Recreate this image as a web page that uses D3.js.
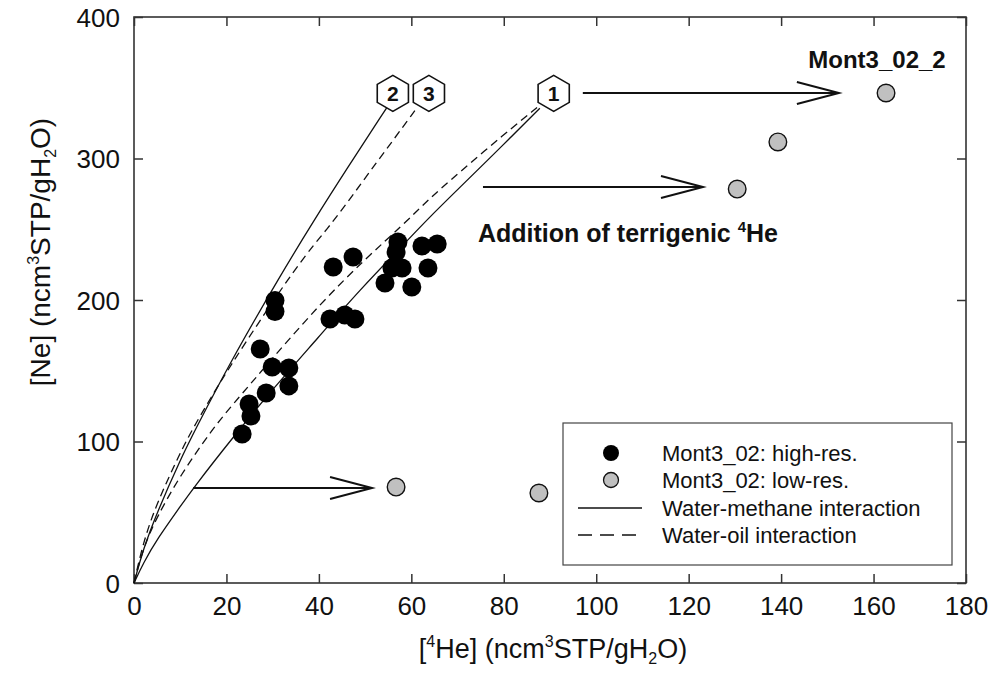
<!DOCTYPE html>
<html>
<head>
<meta charset="utf-8">
<script src="https://cdn.jsdelivr.net/npm/d3@7"></script>
<style>
  html, body { margin: 0; padding: 0; background: #fff; }
  svg { display: block; font-family: "Liberation Sans", Arial, sans-serif; }
</style>
</head>
<body>
<svg id="chart" width="995" height="690"></svg>
<script>
// ---- data ----
const xTicks = [0, 20, 40, 60, 80, 100, 120, 140, 160, 180];
const yTicks = [0, 100, 200, 300, 400];

// Mont3_02 high-resolution samples: [4He], [Ne]
const hiResHe = [23.4, 24.9, 25.3, 27.3, 28.6, 29.9, 30.5, 30.5, 33.5, 33.5, 42.4, 43.1,
                 45.6, 47.4, 47.8, 54.3, 55.8, 56.7, 57.1, 58.0, 60.1, 62.3, 65.6, 63.6];
const hiResNe = [105.3, 126.5, 118.0, 165.4, 134.3, 152.7, 199.6, 191.9, 152.0, 139.3, 186.6, 223.3,
                 189.4, 230.4, 186.6, 212.0, 222.6, 233.9, 241.0, 222.6, 209.2, 238.2, 239.6, 222.6];

// Mont3_02 low-resolution samples
const loResHe = [56.7, 87.6, 130.5, 139.3, 162.7];
const loResNe = [67.8, 63.6, 278.4, 311.7, 346.3];

// Model curves (water-methane = solid, water-oil = dashed)
const methane1He = [0, 2, 5, 10, 12.8, 21.4, 30, 40, 48.5, 60, 64, 70, 80, 87.8];
const methane1Ne = [0, 14, 31, 54, 67, 103, 137, 174, 206, 245, 258.7, 278, 310, 335.5];
const methane2He = [0, 2, 5, 10, 13.2, 20.8, 31.6, 38.7, 46.1, 54.7];
const methane2Ne = [0, 24, 50, 87, 108, 156, 217, 255, 293, 336];
const oil1He = [0, 2, 5, 10, 16.8, 20.8, 30, 40.2, 50, 58.2, 64, 70, 80, 87.2];
const oil1Ne = [0, 25, 47, 76, 108, 124, 159, 197, 229, 253, 272, 289, 317, 336];
const oil3He = [0, 2, 5, 10, 12.5, 20, 35.9, 42.4, 49.5, 55.4, 60.8];
const oil3Ne = [0, 29, 57, 92, 108, 150, 228, 252, 284, 310, 334];

// Scenario markers
const markerLabels = ["2", "3", "1"];
const markerHe = [56.0, 63.8, 90.8];
const markerNe = [346, 346, 346];

// Arrows showing addition of terrigenic 4He: from, to, level
const arrowFrom = [97.1, 75.5, 12.8];
const arrowTo = [152.5, 123.1, 51.5];
const arrowNe = [346.3, 279.9, 67.1];

// ---- layout ----
const svg = d3.select("#chart");
const plotL = 134, plotR = 966, plotT = 17, plotB = 583;
const x = d3.scaleLinear().domain([0, 180]).range([plotL, plotR]);
const y = d3.scaleLinear().domain([0, 400]).range([plotB, plotT]);
const axisColor = "#333";

// frame
svg.append("rect")
  .attr("x", plotL).attr("y", plotT)
  .attr("width", plotR - plotL).attr("height", plotB - plotT)
  .attr("fill", "none").attr("stroke", axisColor).attr("stroke-width", 1.6);

// axes with inward ticks
const tickLen = 9;
const gx = svg.append("g").attr("transform", `translate(0,${plotB})`)
  .call(d3.axisBottom(x).tickValues(xTicks).tickSizeInner(-tickLen).tickSizeOuter(0).tickPadding(14));
const gy = svg.append("g").attr("transform", `translate(${plotL},0)`)
  .call(d3.axisLeft(y).tickValues(yTicks).tickSizeInner(-tickLen).tickSizeOuter(0).tickPadding(14));
const gxt = svg.append("g").attr("transform", `translate(0,${plotT})`)
  .call(d3.axisTop(x).tickValues(xTicks).tickSizeInner(-tickLen).tickSizeOuter(0).tickFormat(""));
const gyr = svg.append("g").attr("transform", `translate(${plotR},0)`)
  .call(d3.axisRight(y).tickValues(yTicks).tickSizeInner(-tickLen).tickSizeOuter(0).tickFormat(""));
[gx, gy, gxt, gyr].forEach(g => {
  g.select(".domain").remove();
  g.selectAll(".tick line").attr("stroke", axisColor).attr("stroke-width", 1.5);
  g.selectAll(".tick text").attr("fill", "#111").style("font-size", "26px")
    .style("font-family", "'Liberation Sans', Arial, sans-serif");
});
gy.selectAll(".tick text").attr("dy", "0.36em");

// axis titles
const supSize = "16px";
const xt = svg.append("text")
  .attr("x", 553).attr("y", 658)
  .attr("text-anchor", "middle").style("font-size", "27px").attr("fill", "#111");
xt.append("tspan").text("[");
xt.append("tspan").text("4").style("font-size", supSize).attr("dy", -11);
xt.append("tspan").text("He] (ncm").attr("dy", 11);
xt.append("tspan").text("3").style("font-size", supSize).attr("dy", -11);
xt.append("tspan").text("STP/gH").attr("dy", 11);
xt.append("tspan").text("2").style("font-size", supSize).attr("dy", 6);
xt.append("tspan").text("O)").attr("dy", -6);

const yt = svg.append("text")
  .attr("transform", "translate(50,252) rotate(-90)")
  .attr("text-anchor", "middle").style("font-size", "28px").attr("fill", "#111");
yt.append("tspan").text("[Ne] (ncm");
yt.append("tspan").text("3").style("font-size", supSize).attr("dy", -11);
yt.append("tspan").text("STP/gH").attr("dy", 11);
yt.append("tspan").text("2").style("font-size", supSize).attr("dy", 6);
yt.append("tspan").text("O)").attr("dy", -6);

// ---- model curves ----
const line = d3.line().x(d => x(d[0])).y(d => y(d[1])).curve(d3.curveBasis);
const curves = [
  { he: methane1He, ne: methane1Ne, dash: null },
  { he: methane2He, ne: methane2Ne, dash: null },
  { he: oil1He, ne: oil1Ne, dash: "8,5" },
  { he: oil3He, ne: oil3Ne, dash: "8,5" }
];
curves.forEach(c => {
  svg.append("path")
    .datum(d3.zip(c.he, c.ne))
    .attr("d", line)
    .attr("fill", "none").attr("stroke", "#111").attr("stroke-width", 1.3)
    .attr("stroke-dasharray", c.dash);
});

// ---- arrows ----
arrowFrom.forEach((f, i) => {
  const x0 = x(f), x1 = x(arrowTo[i]), yy = y(arrowNe[i]);
  const g = svg.append("g").attr("stroke", "#111").attr("stroke-width", 2).attr("fill", "none");
  g.append("line").attr("x1", x0).attr("x2", x1).attr("y1", yy).attr("y2", yy);
  g.append("polyline").attr("points", `${x1 - 42},${yy - 11} ${x1},${yy} ${x1 - 42},${yy + 11}`);
});

// ---- data points ----
svg.append("g").selectAll("circle")
  .data(d3.zip(hiResHe, hiResNe)).join("circle")
  .attr("cx", d => x(d[0])).attr("cy", d => y(d[1])).attr("r", 9.5)
  .attr("fill", "#000");

svg.append("g").selectAll("circle")
  .data(d3.zip(loResHe, loResNe)).join("circle")
  .attr("cx", d => x(d[0])).attr("cy", d => y(d[1])).attr("r", 8.8)
  .attr("fill", "#c0c0c0").attr("stroke", "#111").attr("stroke-width", 1.4);

// ---- scenario hexagons ----
const R = 18;
const hexPts = d3.range(6).map(k => {
  const a = Math.PI / 3 * k - Math.PI / 2;
  return [R * Math.cos(a), R * Math.sin(a)];
});
markerLabels.forEach((lab, i) => {
  const g = svg.append("g").attr("transform", `translate(${x(markerHe[i])},${y(markerNe[i])})`);
  g.append("polygon").attr("points", hexPts.map(p => p.join(",")).join(" "))
    .attr("fill", "#fff").attr("stroke", "#111").attr("stroke-width", 1.6);
  g.append("text").text(lab).attr("text-anchor", "middle").attr("dy", "0.36em")
    .style("font-size", "21px").style("font-weight", "bold").attr("fill", "#111");
});

// ---- annotations ----
svg.append("text").text("Mont3_02_2")
  .attr("x", 877).attr("y", 68).attr("text-anchor", "middle")
  .style("font-size", "24px").style("font-weight", "bold").attr("fill", "#111");

const an = svg.append("text").attr("x", 478).attr("y", 242)
  .style("font-size", "25px").style("font-weight", "bold").attr("fill", "#111");
an.append("tspan").text("Addition of terrigenic ");
an.append("tspan").text("4").style("font-size", "15px").attr("dy", -10);
an.append("tspan").text("He").attr("dy", 10);

// ---- legend ----
const lg = svg.append("g");
lg.append("rect").attr("x", 563).attr("y", 423).attr("width", 389).attr("height", 142)
  .attr("fill", "#fff").attr("stroke", "#444").attr("stroke-width", 1.2);
const legendRows = [
  { label: "Mont3_02: high-res.", type: "hi" },
  { label: "Mont3_02: low-res.", type: "lo" },
  { label: "Water-methane interaction", type: "solid" },
  { label: "Water-oil interaction", type: "dash" }
];
const rowY = [453, 480, 508, 535];
legendRows.forEach((r, i) => {
  const yy = rowY[i];
  if (r.type === "hi") {
    lg.append("circle").attr("cx", 611).attr("cy", yy).attr("r", 8).attr("fill", "#000");
  } else if (r.type === "lo") {
    lg.append("circle").attr("cx", 611).attr("cy", yy).attr("r", 7.5)
      .attr("fill", "#c0c0c0").attr("stroke", "#111").attr("stroke-width", 1.3);
  } else {
    lg.append("line").attr("x1", 578).attr("x2", 642).attr("y1", yy).attr("y2", yy)
      .attr("stroke", "#111").attr("stroke-width", 1.4)
      .attr("stroke-dasharray", r.type === "dash" ? "14,8" : null);
  }
  lg.append("text").text(r.label).attr("x", 662).attr("y", yy).attr("dy", "0.36em")
    .style("font-size", "22px").attr("fill", "#111");
});
</script>
</body>
</html>
